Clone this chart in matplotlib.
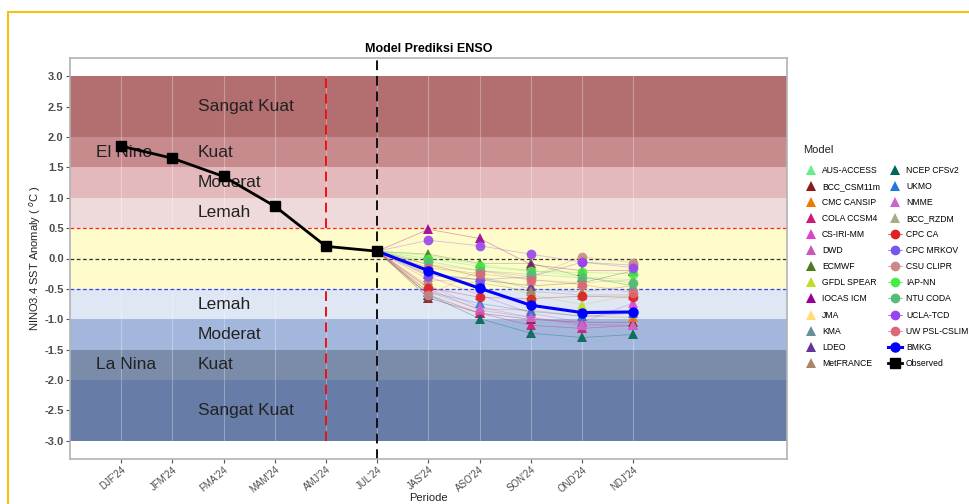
import matplotlib
matplotlib.use("Agg")
import matplotlib.pyplot as plt
from matplotlib.lines import Line2D
from matplotlib.patches import Rectangle
import numpy as np

plt.rcParams['font.family'] = ['Liberation Sans', 'DejaVu Sans']

periods = ["DJF'24", "JFM'24", "FMA'24", "MAM'24", "AMJ'24", "JUL'24",
           "JAS'24", "ASO'24", "SON'24", "OND'24", "NDJ'24"]
observed = [1.85, 1.65, 1.35, 0.86, 0.20, 0.12]
forecast_periods = ["JUL'24", "JAS'24", "ASO'24", "SON'24", "OND'24", "NDJ'24"]
bmkg = [0.12, -0.20, -0.49, -0.77, -0.89, -0.88]
start_value = 0.12

model_names = ["AUS-ACCESS", "BCC_CSM11m", "CMC CANSIP", "COLA CCSM4", "CS-IRI-MM",
               "DWD", "ECMWF", "GFDL SPEAR", "IOCAS ICM", "JMA", "KMA", "LDEO",
               "MetFRANCE", "NCEP CFSv2", "UKMO", "NMME", "BCC_RZDM", "CPC CA",
               "CPC MRKOV", "CSU CLIPR", "IAP-NN", "NTU CODA", "UCLA-TCD", "UW PSL-CSLIM"]
model_colors = ["#66ee88", "#8b1a1a", "#ee7a00", "#cc1a77", "#dd44cc",
                "#cc55bb", "#4d7a1f", "#bbdd22", "#990099", "#ffdd77", "#6a8e99", "#663399",
                "#aa8866", "#006655", "#2277dd", "#cc66cc", "#aaaa88", "#dd2222",
                "#7755ee", "#cc8888", "#44ee44", "#55bb77", "#9944ee", "#dd6677"]
model_markers = ["^"] * 17 + ["o"] * 7
# values for JAS, ASO, SON, OND, NDJ
model_values = {
    "AUS-ACCESS":   [0.05, -0.10, -0.20, -0.30, -0.35],
    "BCC_CSM11m":   [-0.65, -0.90, -1.00, -1.05, -1.05],
    "CMC CANSIP":   [-0.55, -0.83, -0.85, -0.95, -0.97],
    "COLA CCSM4":   [-0.60, -0.90, -1.10, -1.15, -1.10],
    "CS-IRI-MM":    [-0.30, -0.60, -0.90, -1.05, -0.73],
    "DWD":          [-0.50, -0.85, -0.97, -1.08, -1.10],
    "ECMWF":        [0.07, -0.08, -0.08, -0.30, -0.45],
    "GFDL SPEAR":   [-0.10, -0.30, -0.60, -0.76, -0.60],
    "IOCAS ICM":    [0.48, 0.33, -0.10, -0.20, -0.20],
    "JMA":          [-0.15, -0.30, -0.45, -0.50, -0.45],
    "KMA":          [-0.10, -0.30, -0.50, -0.55, -0.45],
    "LDEO":         [-0.25, -0.35, -0.45, -0.40, -0.20],
    "MetFRANCE":    [-0.35, -0.40, -0.54, -0.60, -0.60],
    "NCEP CFSv2":   [-0.60, -0.99, -1.23, -1.30, -1.25],
    "UKMO":         [-0.55, -0.74, -0.87, -0.95, -0.90],
    "NMME":         [-0.45, -0.80, -0.97, -1.10, -1.10],
    "BCC_RZDM":     [-0.10, -0.20, -0.35, -0.40, -0.35],
    "CPC CA":       [-0.48, -0.64, -0.66, -0.62, -0.64],
    "CPC MRKOV":    [-0.28, -0.35, -0.30, -0.06, -0.11],
    "CSU CLIPR":    [-0.60, -0.20, -0.30, 0.03, -0.07],
    "IAP-NN":       [0.00, -0.13, -0.21, -0.23, -0.25],
    "NTU CODA":     [-0.05, -0.20, -0.26, -0.32, -0.40],
    "UCLA-TCD":     [0.30, 0.21, 0.07, -0.06, -0.15],
    "UW PSL-CSLIM": [-0.15, -0.25, -0.35, -0.43, -0.56],
}

band_edges = [(2.0, 3.0), (1.5, 2.0), (1.0, 1.5), (0.5, 1.0), (-0.5, 0.5),
              (-1.0, -0.5), (-1.5, -1.0), (-2.0, -1.5), (-3.0, -2.0)]
band_colors = ["#b36f70", "#c78b8e", "#e3b9bb", "#efdadb", "#fefcca",
               "#dfe6f4", "#a3b7dd", "#7b8baa", "#677ca6"]
band_labels = [("Sangat Kuat", 2.5), ("Kuat", 1.75), ("Moderat", 1.25), ("Lemah", 0.75),
               ("Lemah", -0.75), ("Moderat", -1.25), ("Kuat", -1.75), ("Sangat Kuat", -2.5)]
phase_labels = [("El Nino", 1.75), ("La Nina", -1.75)]

fig = plt.figure(figsize=(9.69, 5.04), dpi=100)
ax = fig.add_axes([70/969, 1-459/504, (787-70)/969, (459-58)/504])

xpos = {p: i for i, p in enumerate(periods)}
ax.set_xlim(-1, 13)
ax.set_ylim(-3.3, 3.3)

for (lo, hi), c in zip(band_edges, band_colors):
    ax.axhspan(lo, hi, color=c, zorder=1, lw=0)

for i in range(len(periods)):
    ax.axvline(i, color="white", lw=0.8, alpha=0.3, zorder=1.5)

for txt, y in band_labels:
    ax.text(1.5, y, txt, fontsize=12.5, va="center", ha="left", color="#222222", zorder=5)
for txt, y in phase_labels:
    ax.text(-0.5, y, txt, fontsize=12.5, va="center", ha="left", color="#222222", zorder=5)

ax.axhline(0.5, color="#ff2222", ls=(0, (3, 2)), lw=0.9, zorder=2)
ax.axhline(0.0, color="#333333", ls=(0, (3, 2)), lw=0.9, zorder=2)
ax.axhline(-0.5, color="#3344ee", ls=(0, (3, 2)), lw=0.9, zorder=2)

ax.vlines(xpos["AMJ'24"], 0.5, 3.0, color="#ee1111", ls=(0, (5, 3)), lw=1.4, zorder=2)
ax.vlines(xpos["AMJ'24"], -3.0, -0.5, color="#ee1111", ls=(0, (5, 3)), lw=1.4, zorder=2)
ax.axvline(xpos["JUL'24"], color="#111111", ls=(0, (5, 3)), lw=1.4, zorder=2)

fx = [xpos[p] for p in forecast_periods]
handles = []
for name, col, mk in zip(model_names, model_colors, model_markers):
    vals = [start_value] + model_values[name]
    ax.plot(fx, vals, color=col, lw=0.6, alpha=0.35, zorder=3)
    ax.plot(fx[1:], vals[1:], ls="none", marker=mk, color=col, markersize=7,
            markeredgewidth=0, alpha=0.9, zorder=4)
    handles.append(Line2D([], [], color=col, lw=0.5, marker=mk,
                          markersize=7, markeredgewidth=0,
                          linestyle="none" if mk == "^" else "-"))

ax.plot(fx, bmkg, color="#0000ff", lw=2.2, marker="o", markersize=6.5, zorder=6)
ox = [xpos[p] for p in periods[:len(observed)]]
ax.plot(ox, observed, color="black", lw=2, marker="s", markersize=6.5, zorder=6)
handles.append(Line2D([], [], color="#0000ff", lw=2.2, marker="o", markersize=6.5))
handles.append(Line2D([], [], color="black", lw=2, marker="s", markersize=6.5))
labels = model_names + ["BMKG", "Observed"]

ax.set_xticks(range(len(periods)))
ax.set_xticklabels(periods, rotation=40, ha="right", rotation_mode="anchor",
                   fontsize=7, color="#4d4d4d")
ax.set_yticks(np.arange(-3.0, 3.01, 0.5))
ax.set_yticklabels([f"{v:.1f}" for v in np.arange(-3.0, 3.01, 0.5)],
                   fontsize=8, color="#4d4d4d", fontweight="bold")
ax.tick_params(axis="both", length=3, color="#555555", width=0.8)
ax.tick_params(axis="y", pad=1.5)
ax.tick_params(axis="x", pad=1)
for s in ax.spines.values():
    s.set_color("#b3b3b3")
    s.set_linewidth(1.2)
ax.set_xlabel("Periode", fontsize=8, color="#222222", labelpad=0)
ax.xaxis.set_label_coords(0.5, -0.085)
ax.set_ylabel("NINO3.4 SST Anomaly ( $^{o}$C )", fontsize=8, color="#222222", labelpad=1)
ax.set_title("Model Prediksi ENSO", fontsize=9, fontweight="bold", pad=4)

fig.text(803/969, 1-150/504, "Model", fontsize=8, ha="left", va="center", color="#222222")
leg = fig.legend(handles, labels, loc="upper left", bbox_to_anchor=(804/969, 1-166/504),
                 ncol=2, fontsize=6.2, frameon=False, borderaxespad=0, borderpad=0,
                 handlelength=1.6, handletextpad=0.5, columnspacing=0.9,
                 labelspacing=0.82)

fig.patches.append(Rectangle((8/969, -0.1), 1.2, 1 - 12/504 + 0.1, transform=fig.transFigure,
                             fill=False, edgecolor="#f5c116", lw=1.5))

fig.savefig("out.png", dpi=100)
